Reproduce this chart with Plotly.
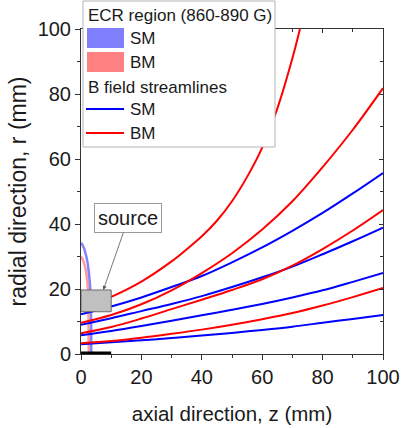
import plotly.graph_objects as go

# ---------------- data ----------------
z_grid = [0, 10, 20, 30, 40, 50, 60, 70, 80, 90, 100]

# SM streamlines (blue)
sm1_r = [12.2, 14.6, 17.4, 20.6, 24.0, 28.2, 32.8, 37.9, 43.4, 49.4, 55.7]
sm2_r = [9.0, 11.0, 13.2, 15.4, 17.8, 20.6, 23.6, 26.9, 30.7, 34.7, 38.9]
sm3_r = [5.8, 7.1, 8.6, 10.2, 11.9, 13.6, 15.4, 17.4, 19.6, 22.2, 24.9]
sm4_r = [3.0, 3.6, 4.2, 4.9, 5.7, 6.5, 7.4, 8.4, 9.6, 10.8, 12.0]

# BM streamlines (red)
bm1_z = [0, 10, 20, 30, 35, 40, 45, 50, 55, 60, 65, 70, 72.5]
bm1_r = [14.0, 17.6, 22.3, 28.5, 32.2, 36.2, 41.0, 47.0, 54.5, 63.5, 75.5, 91.0, 100.0]
bm2_r = [9.6, 12.0, 15.3, 19.6, 24.9, 31.0, 38.3, 47.0, 57.5, 69.0, 81.8]
bm3_r = [6.4, 8.3, 10.9, 13.8, 16.7, 19.7, 23.0, 27.2, 32.3, 38.0, 44.3]
bm4_r = [3.3, 4.0, 5.0, 6.2, 7.5, 9.0, 10.7, 12.6, 14.9, 17.5, 20.3]

# ECR region (860-890 G) boundaries
ecr_sm_z = [0, 0.8, 1.5, 2.1, 2.6, 3.0, 3.2, 3.35, 3.4]
ecr_sm_r = [34.2, 33.0, 31.0, 28.5, 25.0, 21.0, 16.0, 10.0, 0]
ecr_bm_z = [0, 0.7, 1.3, 1.8, 2.2, 2.4, 2.5, 2.55, 2.6]
ecr_bm_r = [30.0, 28.8, 27.0, 24.5, 21.0, 17.0, 10.0, 4.0, 0]

# source block and electrode bar
source_z = [0, 10]
source_r = [13.0, 19.7]
anode_z = [0, 10]
anode_r = [0, 0]

# "source" label position and arrow tip
label_zr = [15.7, 41.8]
arrow_zr = [7.4, 19.7]

x_ticks = [0, 20, 40, 60, 80, 100]
y_ticks = [0, 20, 40, 60, 80, 100]

# ---------------- style ----------------
FONT = "Liberation Sans, Arial, sans-serif"
BLUE = "#0000ff"
RED = "#ff0000"
AX = "#333333"
TXT = "#1a1a1a"

W, H = 401, 428
L, R, T, B = 81, 18, 29, 74
PW, PH = W - L - R, H - T - B


def pxx(x):
    return (x - L) / PW


def pxy(y):
    return (H - B - y) / PH


fig = go.Figure()

# ECR region arcs
fig.add_trace(go.Scatter(x=ecr_sm_z, y=ecr_sm_r, mode="lines",
                         line=dict(color="rgba(90,90,255,0.75)", width=2.5, shape="spline"),
                         showlegend=False, hoverinfo="skip"))
fig.add_trace(go.Scatter(x=ecr_bm_z, y=ecr_bm_r, mode="lines",
                         line=dict(color="rgba(255,90,90,0.6)", width=2.5, shape="spline"),
                         showlegend=False, hoverinfo="skip"))

# streamlines
for rr in [sm1_r, sm2_r, sm3_r, sm4_r]:
    fig.add_trace(go.Scatter(x=z_grid, y=rr, mode="lines",
                             line=dict(color=BLUE, width=2, shape="spline"),
                             showlegend=False, hoverinfo="skip"))
fig.add_trace(go.Scatter(x=bm1_z, y=bm1_r, mode="lines",
                         line=dict(color=RED, width=2, shape="spline"),
                         showlegend=False, hoverinfo="skip"))
for rr in [bm2_r, bm3_r, bm4_r]:
    fig.add_trace(go.Scatter(x=z_grid, y=rr, mode="lines",
                             line=dict(color=RED, width=2, shape="spline"),
                             showlegend=False, hoverinfo="skip"))

# electrode bar on the axis
fig.add_trace(go.Scatter(x=anode_z, y=anode_r, mode="lines",
                         line=dict(color="#000000", width=5),
                         showlegend=False, hoverinfo="skip"))

# dummy trace for the mirrored (top/right) axes
fig.add_trace(go.Scatter(x=[None], y=[None], xaxis="x2", yaxis="y2",
                         showlegend=False, hoverinfo="skip"))

shapes = []
# source block
shapes.append(dict(type="rect", xref="x", yref="y",
                   x0=source_z[0], x1=source_z[1], y0=source_r[0], y1=source_r[1],
                   fillcolor="#c0c0c0", line=dict(color="#6a6a6a", width=1), layer="above"))

# manual legend
shapes.append(dict(type="rect", xref="paper", yref="paper",
                   x0=pxx(83), x1=pxx(275), y0=pxy(147), y1=pxy(1),
                   fillcolor="white", line=dict(color="#b4b4b4", width=1), layer="above"))
shapes.append(dict(type="rect", xref="paper", yref="paper",
                   x0=pxx(87), x1=pxx(124), y0=pxy(48), y1=pxy(28),
                   fillcolor="#8080ff", line=dict(width=0), layer="above"))
shapes.append(dict(type="rect", xref="paper", yref="paper",
                   x0=pxx(87), x1=pxx(124), y0=pxy(72), y1=pxy(52),
                   fillcolor="#ff8080", line=dict(width=0), layer="above"))
shapes.append(dict(type="line", xref="paper", yref="paper",
                   x0=pxx(86), x1=pxx(124), y0=pxy(109), y1=pxy(109),
                   line=dict(color=BLUE, width=2), layer="above"))
shapes.append(dict(type="line", xref="paper", yref="paper",
                   x0=pxx(86), x1=pxx(124), y0=pxy(133), y1=pxy(133),
                   line=dict(color=RED, width=2), layer="above"))

annotations = []
leg_font = dict(family=FONT, size=17, color=TXT)
for txt, xx, yy in [("ECR region (860-890 G)", 86, 15),
                    ("SM", 128, 38),
                    ("BM", 128, 62),
                    ("B field streamlines", 86, 87),
                    ("SM", 128, 109),
                    ("BM", 128, 133)]:
    annotations.append(dict(text=txt, xref="paper", yref="paper",
                            x=pxx(xx), y=pxy(yy), xanchor="left", yanchor="middle",
                            showarrow=False, font=leg_font))

# "source" callout
annotations.append(dict(text="source", xref="x", yref="y",
                        x=arrow_zr[0], y=arrow_zr[1],
                        ax=label_zr[0], ay=label_zr[1], axref="x", ayref="y",
                        showarrow=True, arrowhead=2, arrowsize=1, arrowwidth=0.8,
                        arrowcolor="#555555", standoff=0,
                        bordercolor="#9a9a9a", borderwidth=1, borderpad=3,
                        bgcolor="white", font=dict(family=FONT, size=20, color=TXT)))

axis_common = dict(range=[0, 100], showgrid=False, zeroline=False,
                   linecolor=AX, linewidth=1, automargin=False)

fig.update_layout(
    width=W, height=H,
    margin=dict(l=L, r=R, t=T, b=B, pad=0, autoexpand=False),
    paper_bgcolor="white", plot_bgcolor="white",
    font=dict(family=FONT, size=20, color=TXT),
    showlegend=False,
    xaxis=dict(**axis_common, showline=True, mirror=False,
               tickmode="array", tickvals=x_ticks,
               ticks="outside", ticklen=5, tickwidth=1, tickcolor=AX,
               minor=dict(ticks="outside", ticklen=3, dtick=10, tickwidth=1, tickcolor=AX),
               tickfont=dict(family=FONT, size=20, color=TXT),
               title=dict(text="axial direction, z (mm)",
                          font=dict(family=FONT, size=20.5, color=TXT), standoff=19)),
    yaxis=dict(**axis_common, showline=True, mirror=False,
               tickmode="array", tickvals=y_ticks,
               ticks="outside", ticklen=5, tickwidth=1, tickcolor=AX,
               minor=dict(ticks="outside", ticklen=3, dtick=10, tickwidth=1, tickcolor=AX),
               tickfont=dict(family=FONT, size=20, color=TXT),
               title=dict(text="radial direction, r (mm)",
                          font=dict(family=FONT, size=23, color=TXT), standoff=4)),
    xaxis2=dict(**axis_common, overlaying="x", side="top", anchor="y",
                showline=True, tickmode="array", tickvals=x_ticks,
                ticks="inside", ticklen=4, tickwidth=1, tickcolor=AX,
                minor=dict(ticks="inside", ticklen=3, dtick=10, tickwidth=1, tickcolor=AX),
                showticklabels=False),
    yaxis2=dict(**axis_common, overlaying="y", side="right", anchor="x",
                showline=True, tickmode="array", tickvals=y_ticks,
                ticks="inside", ticklen=4, tickwidth=1, tickcolor=AX,
                minor=dict(ticks="inside", ticklen=3, dtick=10, tickwidth=1, tickcolor=AX),
                showticklabels=False),
    shapes=shapes,
    annotations=annotations,
)

fig.write_html("out.html")
